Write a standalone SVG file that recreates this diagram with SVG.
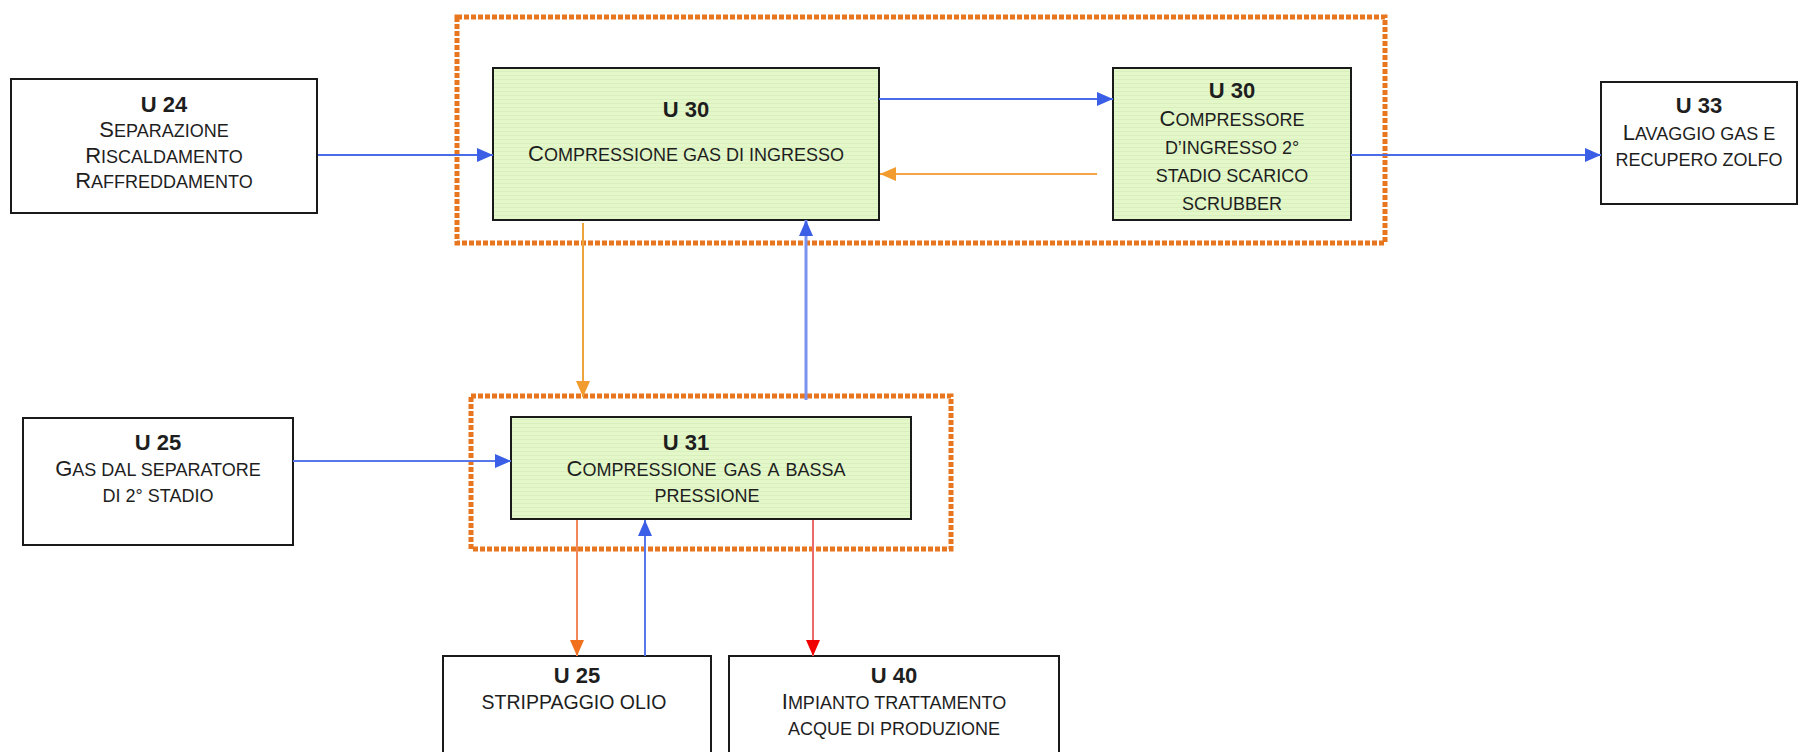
<svg xmlns="http://www.w3.org/2000/svg" width="1813" height="752" viewBox="0 0 1813 752">
<style>
text{font-family:"Liberation Sans",Arial,sans-serif;fill:#1e1e1e;text-anchor:middle;font-size:18px}
.b{font-weight:bold;font-size:22px}
.L{font-size:22px}
.box{fill:#ffffff;stroke:#1a1a1a;stroke-width:2}
.green{fill:url(#stripes);stroke:#1a1a1a;stroke-width:2}
.dot{fill:none;stroke:#E8761E;stroke-width:5;stroke-dasharray:5 2}
.c{fill:none;stroke-width:2}
</style>
<defs>
<pattern id="stripes" patternUnits="userSpaceOnUse" width="8" height="4">
<rect width="8" height="4" fill="#E3F7C9"/>
<rect y="3" width="8" height="1" fill="#D9F0BE"/>
</pattern>
<marker id="aBlue" markerUnits="userSpaceOnUse" markerWidth="16" markerHeight="14" refX="16" refY="7" orient="auto"><path d="M0,0 L16,7 L0,14 z" fill="#3A5FE6"/></marker>
<marker id="aAmber" markerUnits="userSpaceOnUse" markerWidth="16" markerHeight="14" refX="16" refY="7" orient="auto"><path d="M0,0 L16,7 L0,14 z" fill="#F29B2E"/></marker>
<marker id="aOrange" markerUnits="userSpaceOnUse" markerWidth="16" markerHeight="14" refX="16" refY="7" orient="auto"><path d="M0,0 L16,7 L0,14 z" fill="#F0701E"/></marker>
<marker id="aRed" markerUnits="userSpaceOnUse" markerWidth="16" markerHeight="14" refX="16" refY="7" orient="auto"><path d="M0,0 L16,7 L0,14 z" fill="#F00000"/></marker>
</defs>
<rect width="1813" height="752" fill="#ffffff"/>

<g id="group-u30">
<rect class="dot" x="457" y="17" width="928" height="226"/>
</g>
<g id="group-u31">
<rect class="dot" x="471" y="396" width="480" height="153"/>
</g>

<g id="node-u24">
<rect class="box" x="11" y="79" width="306" height="134"/>
<text class="b" x="164" y="112">U 24</text>
<text x="164" y="137"><tspan class="L">S</tspan>EPARAZIONE</text>
<text x="164" y="163"><tspan class="L">R</tspan>ISCALDAMENTO</text>
<text x="164" y="188"><tspan class="L">R</tspan>AFFREDDAMENTO</text>
</g>

<g id="node-u30a">
<rect class="green" x="493" y="68" width="386" height="152"/>
<text class="b" x="686" y="117">U 30</text>
<text x="686" y="161"><tspan class="L">C</tspan>OMPRESSIONE GAS DI INGRESSO</text>
</g>

<g id="node-u30b">
<rect class="green" x="1113" y="68" width="238" height="152"/>
<text class="b" x="1232" y="98">U 30</text>
<text x="1232" y="126"><tspan class="L">C</tspan>OMPRESSORE</text>
<text x="1232" y="154">D’INGRESSO 2°</text>
<text x="1232" y="182">STADIO SCARICO</text>
<text x="1232" y="210">SCRUBBER</text>
</g>

<g id="node-u33">
<rect class="box" x="1601" y="82" width="196" height="122"/>
<text class="b" x="1699" y="113">U 33</text>
<text x="1699" y="140"><tspan class="L">L</tspan>AVAGGIO GAS E</text>
<text x="1699" y="166">RECUPERO ZOLFO</text>
</g>

<g id="node-u25a">
<rect class="box" x="23" y="418" width="270" height="127"/>
<text class="b" x="158" y="450">U 25</text>
<text x="158" y="476"><tspan class="L">G</tspan>AS DAL SEPARATORE</text>
<text x="158" y="502">DI 2° STADIO</text>
</g>

<g id="node-u31">
<rect class="green" x="511" y="417" width="400" height="102"/>
<text class="b" x="686" y="450">U 31</text>
<text x="706" y="476" word-spacing="2"><tspan class="L">C</tspan>OMPRESSIONE GAS A BASSA</text>
<text x="707" y="502">PRESSIONE</text>
</g>

<g id="node-u25b">
<rect class="box" x="443" y="656" width="268" height="110"/>
<text class="b" x="577" y="683">U 25</text>
<text x="574" y="709" style="font-size:19.5px">STRIPPAGGIO OLIO</text>
</g>

<g id="node-u40">
<rect class="box" x="729" y="656" width="330" height="110"/>
<text class="b" x="894" y="683">U 40</text>
<text x="894" y="709"><tspan class="L">I</tspan>MPIANTO TRATTAMENTO</text>
<text x="894" y="735">ACQUE DI PRODUZIONE</text>
</g>

<g id="connectors">
<line class="c" x1="318" y1="155" x2="493" y2="155" stroke="#4A6CE8" marker-end="url(#aBlue)"/>
<line class="c" x1="879" y1="99" x2="1113" y2="99" stroke="#4A6CE8" marker-end="url(#aBlue)"/>
<line class="c" x1="1097" y1="174" x2="880" y2="174" stroke="#F4A445" marker-end="url(#aAmber)"/>
<line class="c" x1="1351" y1="155" x2="1601" y2="155" stroke="#4A6CE8" marker-end="url(#aBlue)"/>
<line class="c" x1="583" y1="223" x2="583" y2="397" stroke="#EDA43A" marker-end="url(#aAmber)"/>
<line x1="806" y1="400" x2="806" y2="220" stroke="#7B92EE" stroke-width="3" marker-end="url(#aBlue)"/>
<line class="c" x1="293" y1="461" x2="511" y2="461" stroke="#5878EA" marker-end="url(#aBlue)"/>
<line class="c" x1="577" y1="520" x2="577" y2="656" stroke="#F3865A" marker-end="url(#aOrange)"/>
<line class="c" x1="645" y1="656" x2="645" y2="520" stroke="#5878EA" marker-end="url(#aBlue)"/>
<line class="c" x1="813" y1="520" x2="813" y2="656" stroke="#EE6A6A" marker-end="url(#aRed)"/>
</g>
</svg>
